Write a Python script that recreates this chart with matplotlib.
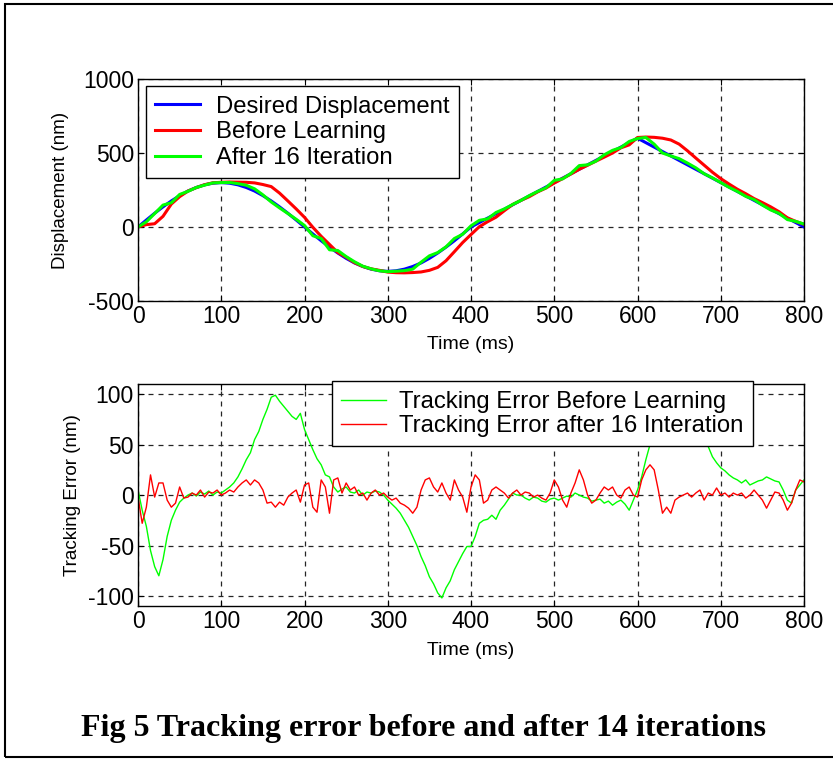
import numpy as np
import matplotlib
matplotlib.use("Agg")
from matplotlib import pyplot as plt
from matplotlib.patches import Rectangle

plt.rcParams['font.family'] = ['Liberation Sans', 'DejaVu Sans']
plt.rcParams['axes.unicode_minus'] = False

# waktu sampel (ms)
t10 = np.arange(0, 801, 10)
t5 = np.arange(0, 801, 5)

# Perpindahan yang diinginkan (nm), tiap 10 ms
desired = [0, 47, 93, 136, 176, 212, 243, 267, 285, 296,
           300, 296, 285, 267, 243, 212, 176, 136, 93, 47,
           0, -47, -93, -136, -176, -212, -243, -267, -285, -296,
           -300, -296, -285, -267, -243, -212, -176, -136, -93, -47,
           0, 30, 60, 90, 120, 150, 180, 210, 240, 270,
           300, 330, 360, 390, 420, 450, 480, 510, 540, 570,
           600, 570, 540, 510, 480, 450, 420, 390, 360, 330,
           300, 270, 240, 210, 180, 150, 120, 90, 60, 30, 0]

# Sebelum learning (nm)
before = [0, 16, 22, 72, 155, 205, 243, 266, 286, 299,
          302, 304, 303, 302, 298, 287, 273, 229, 176, 122,
          65, -2, -63, -118, -173, -204, -241, -267, -283, -293,
          -305, -309, -310, -308, -304, -293, -273, -228, -167, -105,
          -51, 2, 36, 66, 110, 152, 180, 205, 237, 263,
          297, 327, 358, 390, 417, 445, 472, 500, 535, 555,
          605, 608, 606, 600, 588, 560, 515, 466, 418, 370,
          327, 290, 255, 225, 192, 165, 136, 103, 62, 38, 18]

# Setelah 16 iterasi (nm)
after = [0, 35, 91, 148, 164, 220, 241, 267, 283, 298,
         300, 301, 293, 282, 258, 217, 169, 129, 91, 52,
         10, -59, -78, -154, -159, -200, -235, -265, -283, -296,
         -302, -299, -295, -285, -238, -195, -173, -134, -78, -49,
         8, 45, 55, 98, 122, 152, 180, 212, 240, 265,
         315, 325, 362, 415, 420, 445, 488, 518, 537, 578,
         598, 605, 560, 500, 480, 462, 432, 400, 360, 332,
         300, 268, 240, 207, 185, 148, 115, 92, 50, 38, 20]

# Error tracking sebelum learning (nm), tiap 5 ms
err_before = [5, -15, -31, -55, -71, -80, -64, -41, -25, -15,
              -7, -3, 0, 2, -1, 3, 1, 4, 0, 3,
              2, 5, 8, 12, 18, 26, 35, 42, 55, 63,
              75, 85, 97, 99, 93, 88, 83, 78, 75, 81,
              65, 55, 45, 36, 30, 20, 18, 8, 3, 6,
              8, 3, 2, 5, 0, 3, 2, 4, 3, 0,
              -5, -9, -13, -18, -25, -32, -41, -50, -61, -70,
              -81, -88, -97, -102, -92, -85, -74, -66, -58, -51,
              -51, -41, -28, -25, -24, -20, -24, -15, -10, -4,
              2, 0, 0, -3, -5, -2, -3, -6, -7, -4,
              -3, -5, -3, -1, -2, 2, 0, -2, -3, -6,
              -5, -4, -8, -6, -10, -7, -5, -9, -15, -5,
              5, 18, 35, 50, 62, 75, 85, 95, 100, 100,
              98, 92, 88, 80, 72, 65, 55, 48, 38, 32,
              27, 24, 20, 17, 15, 12, 15, 10, 12, 14,
              15, 18, 16, 14, 13, 5, -5, -8, 5, 10, 15]

# Error tracking setelah 16 iterasi (nm)
err_after = [-2, -28, -12, 20, -2, 12, 12, -5, -12, -8,
             8, -3, -2, 2, 0, 5, -2, 3, 2, 5,
             0, 2, 5, 3, 8, 12, 15, 10, 15, 12,
             5, -8, -7, -12, -7, -10, -2, 2, 5, -7,
             10, 12, -12, -17, 15, 8, -18, 15, 17, 2,
             12, 5, 8, 0, 2, -5, 2, 5, 0, 2,
             -2, -5, -3, -8, -10, -13, -18, -12, 5, 15,
             17, 8, 3, 12, 2, -5, 15, 5, -2, -17,
             8, 20, 15, -8, -5, 5, 8, 5, 2, -3,
             2, 5, 0, 3, 2, -2, 0, -3, -5, 2,
             15, 8, -5, -12, 2, 12, 25, 15, 0, -8,
             -5, 2, 8, 5, 8, 0, -3, 5, 8, 0,
             -2, 15, 25, 30, 25, 5, -18, -12, -18, -5,
             -2, 0, 2, -2, 2, 5, -5, 2, 0, 7,
             0, 2, -2, 2, 0, 2, -3, 0, 5, 0,
             -5, -13, -5, 3, 2, -5, -15, -8, 5, 15, 13]

xticks = [0, 100, 200, 300, 400, 500, 600, 700, 800]

fig = plt.figure(figsize=(8.33, 7.60), dpi=100)

# bingkai luar (sisi kanan terpotong seperti aslinya)
fig.patches.append(Rectangle((0.006, 0.004), 1.05, 0.991, transform=fig.transFigure,
                             fill=False, edgecolor='black', linewidth=1.5))

ax1 = fig.add_axes([0.1657, 0.604, 0.7995, 0.292])
ax2 = fig.add_axes([0.1657, 0.2026, 0.7995, 0.292])

ax1.plot(t10, desired, color='#0000ff', linewidth=2.2, label='Desired Displacement')
ax1.plot(t10, before, color='#ff0000', linewidth=2.2, label='Before Learning')
ax1.plot(t10, after, color='#00ff00', linewidth=2.2, label='After 16 Iteration')
ax1.set_xlim(0, 800)
ax1.set_ylim(-500, 1000)
ax1.set_yticks([-500, 0, 500, 1000])
ax1.set_ylabel('Displacement (nm)', fontsize=13.5, labelpad=10)
ax1.set_xlabel('Time (ms)', fontsize=14, labelpad=6)
leg1 = ax1.legend(loc='upper left', bbox_to_anchor=(0.0116, 0.968), borderaxespad=0,
                  fontsize=17.2, handlelength=1.85, handletextpad=0.7, labelspacing=0.15,
                  borderpad=0.4, fancybox=False, framealpha=1, edgecolor='black')
leg1.get_frame().set_linewidth(1.0)

ax2.plot(t5, err_before, color='#00ff00', linewidth=1.0, label='Tracking Error Before Learning')
ax2.plot(t5, err_after, color='#ff0000', linewidth=1.0, label='Tracking Error after 16 Interation')
ax2.set_xlim(0, 800)
ax2.set_ylim(-110, 110)
ax2.set_yticks([-100, -50, 0, 50, 100])
ax2.set_ylabel('Tracking Error (nm)', fontsize=13.5, labelpad=5)
ax2.set_xlabel('Time (ms)', fontsize=14, labelpad=6)
leg2 = ax2.legend(loc='upper right', bbox_to_anchor=(0.923, 1.012), borderaxespad=0,
                  fontsize=17.2, handlelength=1.85, handletextpad=0.55, labelspacing=0.08,
                  borderpad=0.4, fancybox=False, framealpha=1, edgecolor='black')
leg2.get_frame().set_linewidth(1.0)

for ax in (ax1, ax2):
    ax.set_xticks(xticks)
    ax.grid(True, color='0.15', linestyle=(0, (4, 4)), linewidth=0.9)
    ax.tick_params(direction='in', top=True, right=True, length=4, labelsize=16.5, pad=3)
    for s in ax.spines.values():
        s.set_linewidth(1.0)

fig.text(0.508, 0.042, 'Fig 5 Tracking error before and after 14 iterations',
         ha='center', va='center', fontsize=23, fontweight='bold', family='Liberation Serif')

fig.savefig('out.png', dpi=100)
